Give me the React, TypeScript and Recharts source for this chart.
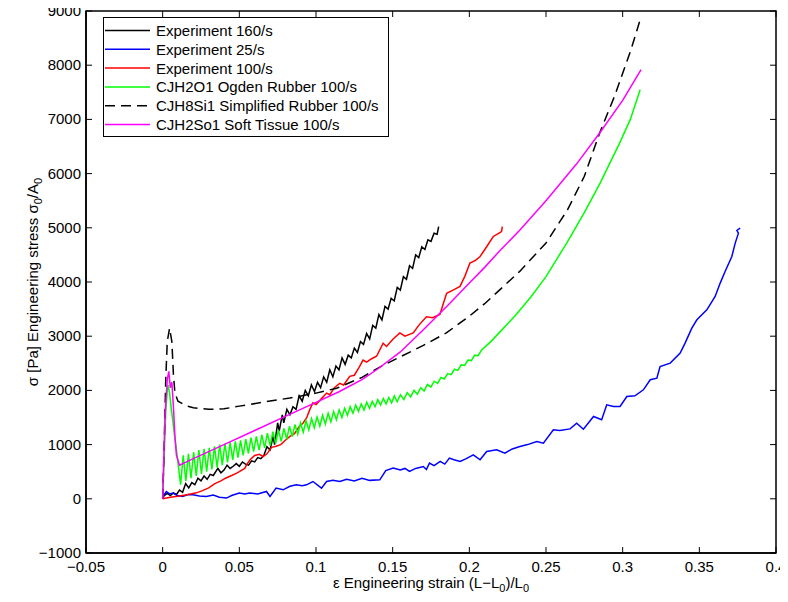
import { LineChart, Line, XAxis, YAxis, ReferenceArea, Legend } from "recharts";

// axis ticks
const strainTicks = [-0.05, 0, 0.05, 0.1, 0.15, 0.2, 0.25, 0.3, 0.35, 0.4];
const stressTicks = [-1000, 0, 1000, 2000, 3000, 4000, 5000, 6000, 7000, 8000, 9000];

// [strain, stress]
const exp160: [number, number][] = [
  [0, 0], [0.001, 60], [0.003, 100], [0.005, 60], [0.007, 110], [0.009, 80], [0.011, 160],
  [0.013, 120], [0.015, 280], [0.017, 200], [0.019, 300], [0.021, 260], [0.023, 380],
  [0.025, 330], [0.027, 420], [0.029, 360], [0.031, 450], [0.033, 430], [0.036, 560],
  [0.038, 480], [0.04, 530], [0.042, 620], [0.044, 560], [0.046, 600], [0.048, 650],
  [0.05, 600], [0.052, 680], [0.054, 640], [0.056, 620], [0.058, 700], [0.06, 680],
  [0.062, 760], [0.064, 740], [0.066, 800], [0.068, 960], [0.07, 900], [0.072, 1150],
  [0.073, 1000], [0.075, 1400], [0.076, 1250], [0.078, 1550], [0.079, 1400], [0.081, 1650],
  [0.083, 1550], [0.085, 1700], [0.087, 1650], [0.089, 1900], [0.091, 1800], [0.093, 2000],
  [0.095, 1900], [0.097, 2100], [0.099, 1980], [0.101, 2150], [0.103, 2050], [0.105, 2250],
  [0.107, 2150], [0.109, 2380], [0.111, 2250], [0.113, 2450], [0.115, 2380], [0.117, 2600],
  [0.119, 2480], [0.121, 2650], [0.123, 2600], [0.125, 2780], [0.127, 2700], [0.129, 2900],
  [0.131, 2850], [0.133, 3050], [0.135, 2950], [0.137, 3200], [0.139, 3150], [0.141, 3400],
  [0.143, 3300], [0.145, 3550], [0.147, 3500], [0.149, 3700], [0.151, 3650], [0.153, 3900],
  [0.155, 3850], [0.157, 4100], [0.159, 4050], [0.161, 4300], [0.163, 4250], [0.165, 4500],
  [0.167, 4450], [0.169, 4650], [0.171, 4600], [0.173, 4780], [0.175, 4750], [0.177, 4900],
  [0.179, 4880], [0.18, 5020],
];

const exp25: [number, number][] = [
  [0, 0], [0.0005, 60], [0.0024, 135], [0.0045, 90], [0.0067, 105], [0.0095, 60], [0.013, 42],
  [0.0165, 80], [0.0198, 74], [0.024, 50], [0.0285, 42], [0.033, 70], [0.037, 30], [0.0416, 13],
  [0.045, 60], [0.05, 105], [0.0535, 90], [0.0568, 105], [0.062, 90], [0.0677, 135], [0.07, 42],
  [0.074, 197], [0.0785, 166], [0.083, 230], [0.0872, 258], [0.091, 240], [0.0938, 258],
  [0.098, 319], [0.1036, 197], [0.1069, 319], [0.111, 340], [0.1155, 319], [0.12, 360],
  [0.125, 330], [0.13, 380], [0.135, 340], [0.1416, 350], [0.1455, 520], [0.1503, 566],
  [0.155, 530], [0.158, 560], [0.161, 504], [0.165, 560], [0.17, 596], [0.172, 540],
  [0.174, 658], [0.177, 610], [0.181, 689], [0.184, 640], [0.187, 750], [0.19, 720],
  [0.194, 689], [0.198, 740], [0.2026, 812], [0.207, 720], [0.2113, 873], [0.2178, 904],
  [0.2232, 843], [0.228, 920], [0.233, 965], [0.238, 1000], [0.244, 1057], [0.2483, 1027],
  [0.2548, 1273], [0.259, 1260], [0.2657, 1290], [0.27, 1396], [0.2744, 1284], [0.281, 1519],
  [0.2863, 1458], [0.2896, 1734], [0.294, 1703], [0.2983, 1703], [0.3027, 1887], [0.308, 1900],
  [0.3135, 2011], [0.318, 2196], [0.3223, 2226], [0.3244, 2441], [0.331, 2503], [0.3375, 2688],
  [0.3407, 2873], [0.3451, 3149], [0.3484, 3303], [0.3549, 3487], [0.3603, 3733],
  [0.3636, 3980], [0.3668, 4194], [0.3712, 4471], [0.3734, 4717], [0.3755, 4902],
  [0.3745, 4950], [0.3766, 4994],
];

const exp100: [number, number][] = [
  [0, 0], [0.005, 30], [0.01, 45], [0.016, 75], [0.022, 110], [0.026, 150], [0.03, 200],
  [0.034, 280], [0.038, 330], [0.041, 380], [0.045, 430], [0.048, 470], [0.05, 500],
  [0.0535, 560], [0.055, 640], [0.057, 720], [0.06, 800], [0.063, 820], [0.0655, 780],
  [0.068, 830], [0.071, 950], [0.074, 970], [0.077, 1000], [0.08, 1080], [0.083, 1150],
  [0.086, 1200], [0.089, 1330], [0.0916, 1400], [0.094, 1500], [0.096, 1650], [0.098, 1770],
  [0.1, 1740], [0.103, 1830], [0.1069, 1950], [0.109, 1920], [0.112, 2050], [0.1155, 2130],
  [0.118, 2100], [0.122, 2260], [0.125, 2280], [0.128, 2420], [0.1307, 2560], [0.133, 2520],
  [0.136, 2580], [0.1395, 2630], [0.1438, 2870], [0.146, 2810], [0.1503, 2950],
  [0.1547, 3060], [0.158, 3000], [0.1634, 3060], [0.167, 3200], [0.172, 3360], [0.176, 3340],
  [0.1808, 3400], [0.183, 3600], [0.1852, 3790], [0.19, 3860], [0.1939, 3920], [0.197, 4100],
  [0.2004, 4350], [0.204, 4400], [0.207, 4470], [0.2113, 4650], [0.2156, 4840], [0.218, 4880],
  [0.221, 4930], [0.2215, 5020],
];

const ogden: [number, number][] = [
  [0, 0], [0.001, 800], [0.002, 1600], [0.003, 2000], [0.0035, 2100], [0.0045, 1950],
  [0.0057, 1640], [0.0068, 1400], [0.0078, 1150], [0.009, 900], [0.01, 660], [0.0117, 260],
  [0.0134, 800], [0.0151, 330], [0.0168, 830], [0.0185, 380], [0.0202, 860], [0.0219, 420],
  [0.0236, 900], [0.0253, 460], [0.027, 920], [0.0287, 500], [0.0304, 940], [0.0321, 540],
  [0.0338, 970], [0.0355, 580], [0.0372, 1000], [0.0389, 620], [0.0406, 1020], [0.0423, 670],
  [0.044, 1040], [0.0457, 720], [0.0474, 1060], [0.0491, 760], [0.0508, 1080], [0.0525, 800],
  [0.0542, 1100], [0.0559, 840], [0.0576, 1130], [0.0593, 870], [0.0611, 1150], [0.0629, 900],
  [0.0647, 1180], [0.0665, 940], [0.0683, 1210], [0.0701, 980], [0.0719, 1240], [0.0737, 1020],
  [0.0755, 1270], [0.0773, 1060], [0.0791, 1300], [0.0809, 1100], [0.0827, 1340],
  [0.0845, 1150], [0.0863, 1370], [0.0881, 1190], [0.0899, 1400], [0.0917, 1230],
  [0.0935, 1440], [0.0953, 1270], [0.0971, 1480], [0.0989, 1310], [0.1007, 1510],
  [0.1025, 1340], [0.1043, 1540], [0.1061, 1380], [0.1079, 1580], [0.1097, 1420],
  [0.1115, 1610], [0.1133, 1460], [0.1151, 1640], [0.1169, 1500], [0.1187, 1670],
  [0.1205, 1540], [0.1223, 1700], [0.1241, 1580], [0.1259, 1730], [0.1277, 1610],
  [0.1295, 1750], [0.1313, 1640], [0.1331, 1780], [0.1349, 1670], [0.1367, 1800],
  [0.1385, 1700], [0.1403, 1830], [0.1421, 1730], [0.1439, 1850], [0.1457, 1750],
  [0.1475, 1870], [0.1493, 1770], [0.1511, 1900], [0.1529, 1790], [0.1551, 1920],
  [0.1573, 1830], [0.1595, 1960], [0.1617, 1880], [0.1639, 2000], [0.1661, 1930],
  [0.1683, 2050], [0.1705, 1990], [0.1727, 2110], [0.1749, 2060], [0.1771, 2170],
  [0.1793, 2130], [0.1815, 2240], [0.1837, 2210], [0.1859, 2310], [0.1881, 2290],
  [0.1903, 2390], [0.1925, 2370], [0.1947, 2470], [0.1969, 2460], [0.1991, 2560],
  [0.2013, 2550], [0.2035, 2650], [0.2057, 2640], [0.2079, 2740], [0.214, 2900], [0.22, 3080],
  [0.23, 3380], [0.24, 3720], [0.25, 4100], [0.2635, 4717], [0.275, 5280], [0.2853, 5825],
  [0.298, 6563], [0.305, 7000], [0.3114, 7546],
];

const simplified: [number, number][] = [
  [0, 0], [0.001, 1000], [0.002, 2200], [0.003, 2900], [0.0045, 3150], [0.006, 2900],
  [0.007, 2300], [0.008, 1950], [0.01, 1800], [0.015, 1720], [0.02, 1680], [0.03, 1650],
  [0.04, 1660], [0.05, 1710], [0.065, 1780], [0.083, 1860], [0.1, 1950], [0.1135, 2040],
  [0.13, 2240], [0.1416, 2430], [0.155, 2620], [0.17, 2830], [0.185, 3060], [0.2, 3370],
  [0.21, 3600], [0.22, 3860], [0.233, 4200], [0.25, 4720], [0.264, 5330], [0.275, 5950],
  [0.285, 6750], [0.295, 7450], [0.305, 8250], [0.311, 8800],
];

const softTissue: [number, number][] = [
  [0, 0], [0.0015, 1500], [0.003, 2200], [0.004, 2350], [0.005, 2050], [0.006, 2150],
  [0.007, 1700], [0.008, 1150], [0.009, 800], [0.011, 620], [0.02, 740], [0.04, 1000],
  [0.06, 1260], [0.08, 1520], [0.1, 1780], [0.115, 1975], [0.13, 2200], [0.14, 2390],
  [0.155, 2710], [0.17, 3120], [0.187, 3600], [0.2, 3980], [0.21, 4270], [0.22, 4580],
  [0.233, 4960], [0.25, 5500], [0.27, 6180], [0.285, 6750], [0.3, 7350], [0.312, 7920],
];

const toPoints = (rows: [number, number][]) =>
  rows.map(([strain, stress]) => ({ strain, stress }));

const SERIES = [
  { name: "Experiment 160/s", color: "#000000", dash: undefined, rows: exp160 },
  { name: "Experiment 25/s", color: "#0000ff", dash: undefined, rows: exp25 },
  { name: "Experiment 100/s", color: "#ff0000", dash: undefined, rows: exp100 },
  { name: "CJH2O1 Ogden Rubber 100/s", color: "#00ff00", dash: undefined, rows: ogden },
  { name: "CJH8Si1 Simplified Rubber 100/s", color: "#000000", dash: "10 6", rows: simplified },
  { name: "CJH2So1 Soft Tissue 100/s", color: "#ff00ff", dash: undefined, rows: softTissue },
];

const FONT = "'Liberation Sans', Arial, Helvetica, sans-serif";
const W = 780;
const H = 594;
const TOP = 3;
const LEFT = 78;
const RIGHT = 768;
const BOTTOM = 545;
const TICK = 6;

const fmt = (v: number) => String(v).replace("-", "\u2212");

function StrainTick(props: any) {
  const { x, y, payload } = props;
  return (
    <g>
      <line x1={x} y1={y} x2={x} y2={y - TICK} stroke="#000" />
      <line x1={x} y1={TOP} x2={x} y2={TOP + TICK} stroke="#000" />
      <text x={x} y={y + 19} textAnchor="middle" fontSize={15} fontFamily={FONT} fill="#000">
        {fmt(payload.value)}
      </text>
    </g>
  );
}

function StressTick(props: any) {
  const { x, y, payload } = props;
  return (
    <g>
      <line x1={x} y1={y} x2={x + TICK} y2={y} stroke="#000" />
      <line x1={RIGHT} y1={y} x2={RIGHT - TICK} y2={y} stroke="#000" />
      <text x={x - 5} y={y + 5} textAnchor="end" fontSize={15} fontFamily={FONT} fill="#000">
        {fmt(payload.value)}
      </text>
    </g>
  );
}

function XTitle() {
  return (
    <text x={(LEFT + RIGHT) / 2} y={580} textAnchor="middle" fontSize={15} fontFamily={FONT} fill="#000">
      {"\u03b5 Engineering strain (L\u2212L"}
      <tspan dy={4} fontSize={11}>0</tspan>
      <tspan dy={-4}>)/L</tspan>
      <tspan dy={4} fontSize={11}>0</tspan>
    </text>
  );
}

function YTitle() {
  return (
    <text
      transform={`translate(30, ${(TOP + BOTTOM) / 2}) rotate(-90)`}
      textAnchor="middle"
      fontSize={15}
      fontFamily={FONT}
      fill="#000"
    >
      {"\u03c3 [Pa] Engineering stress \u03c3"}
      <tspan dy={4} fontSize={11}>0</tspan>
      <tspan dy={-4}>/A</tspan>
      <tspan dy={4} fontSize={11}>0</tspan>
    </text>
  );
}

function LegendBox() {
  const rowH = 18.8;
  return (
    <svg width={287} height={121} style={{ display: "block" }}>
      <rect x={0.5} y={0.5} width={285} height={119} fill="#fff" stroke="#000" />
      {SERIES.map((s, i) => {
        const cy = 13.5 + i * rowH;
        return (
          <g key={s.name}>
            <line
              x1={2}
              x2={47}
              y1={cy}
              y2={cy}
              stroke={s.color}
              strokeWidth={1.5}
              strokeDasharray={s.dash}
            />
            <text x={53} y={cy + 5.5} fontSize={15} fontFamily={FONT} fill="#000">
              {s.name}
            </text>
          </g>
        );
      })}
    </svg>
  );
}

export default function App() {
  return (
    <LineChart
      width={W}
      height={H}
      margin={{ top: TOP, right: W - RIGHT, left: 0, bottom: 0 }}
      style={{ overflow: "visible" }}
    >
      <XAxis
        dataKey="strain"
        type="number"
        domain={[-0.05, 0.4]}
        ticks={strainTicks}
        allowDataOverflow
        axisLine={{ stroke: "#000", strokeWidth: 1.5 }}
        tickLine={false}
        tickSize={0}
        tickMargin={0}
        height={H - BOTTOM}
        tick={StrainTick}
        interval={0}
        label={<XTitle />}
      />
      <YAxis
        dataKey="stress"
        type="number"
        domain={[-1000, 9000]}
        ticks={stressTicks}
        allowDataOverflow
        axisLine={{ stroke: "#000", strokeWidth: 1.5 }}
        tickLine={false}
        tickSize={0}
        tickMargin={0}
        width={LEFT}
        tick={StressTick}
        interval={0}
        label={<YTitle />}
      />
      <ReferenceArea
        x1={-0.05}
        x2={0.4}
        y1={-1000}
        y2={9000}
        fill="none"
        fillOpacity={0}
        stroke="#000"
        strokeWidth={1.5}
        ifOverflow="visible"
      />
      {SERIES.map((s) => (
        <Line
          key={s.name}
          data={toPoints(s.rows)}
          dataKey="stress"
          name={s.name}
          type="linear"
          stroke={s.color}
          strokeWidth={1.5}
          strokeDasharray={s.dash}
          dot={false}
          activeDot={false}
          isAnimationActive={false}
        />
      ))}
      <Legend
        layout="vertical"
        align="center"
        verticalAlign="middle"
        wrapperStyle={{ left: 95, top: 9, width: 287, height: 121 }}
        content={() => <LegendBox />}
      />
    </LineChart>
  );
}
